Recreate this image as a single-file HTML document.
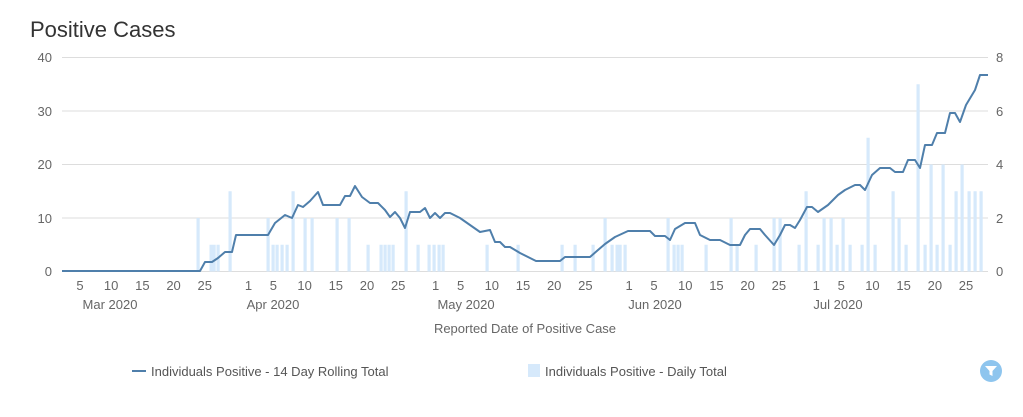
<!DOCTYPE html><html><head><style>body{margin:0;background:#fff;font-family:"Liberation Sans",sans-serif}</style></head><body>
<svg width="1023" height="412" xmlns="http://www.w3.org/2000/svg" font-family="Liberation Sans, sans-serif">
<text x="30" y="37" font-size="22" fill="#333">Positive Cases</text>
<g stroke="#ddd" stroke-width="1">
<line x1="62" x2="988" y1="57.5" y2="57.5"/><line x1="62" x2="988" y1="111" y2="111"/><line x1="62" x2="988" y1="164.5" y2="164.5"/><line x1="62" x2="988" y1="218" y2="218"/><line x1="62" x2="988" y1="271.5" y2="271.5"/></g>
<g font-size="13" fill="#666" text-anchor="end"><text x="52" y="62">40</text><text x="52" y="116">30</text><text x="52" y="169">20</text><text x="52" y="223">10</text><text x="52" y="276">0</text></g>
<g font-size="13" fill="#666"><text x="996" y="62">8</text><text x="996" y="116">6</text><text x="996" y="169">4</text><text x="996" y="223">2</text><text x="996" y="276">0</text></g>
<g fill="#d6e9fb" id="bars"></g>
<polyline fill="none" stroke="#4f7fab" stroke-width="2" stroke-linejoin="round" points="62,271 200,271 205,262 212,262 218,258 225,252 232,252 236,235 268,235 275,223 285,215 292,218 298,205 303,207 310,201 318,192 323,205 340,205 345,196 350,196 355,186 362,197 370,203 378,203 385,210 390,217 395,212 400,218 405,228 410,212 420,212 425,208 430,218 435,213 440,218 445,213 450,213 460,218 470,225 480,232 490,230 495,242 500,242 505,247 510,247 520,253 530,258 536,261 560,261 565,257 590,257 598,250 605,244 615,237 628,231 650,231 655,236 665,236 670,240 675,229 685,223 695,223 700,235 710,240 720,240 730,245 740,245 745,235 750,229 760,229 765,235 774,245 780,235 785,225 790,225 795,228 800,220 807,207 812,207 818,212 828,205 838,195 845,190 855,185 860,185 865,190 872,175 880,168 890,168 895,172 903,172 908,160 915,160 920,168 925,145 932,145 937,133 945,133 950,113 955,113 960,122 966,105 975,90 980,75 988,75"/>
<g font-size="13" fill="#666" text-anchor="middle" id="ticks"></g>
<g font-size="13" fill="#666" text-anchor="middle"><text x="110" y="309">Mar 2020</text><text x="273" y="309">Apr 2020</text><text x="466" y="309">May 2020</text><text x="655" y="309">Jun 2020</text><text x="838" y="309">Jul 2020</text>
<text x="525" y="333">Reported Date of Positive Case</text></g>
<line x1="132" x2="146" y1="371" y2="371" stroke="#4f7fab" stroke-width="2"/>
<text x="151" y="376" font-size="13" fill="#555">Individuals Positive - 14 Day Rolling Total</text>
<rect x="528" y="364" width="12" height="13" fill="#d6e9fb"/>
<text x="545" y="376" font-size="13" fill="#555">Individuals Positive - Daily Total</text>
<circle cx="991" cy="371" r="11" fill="#8ec5ee"/>
<path d="M985 366h12l-4.5 5v5l-3-1.5v-3.5z" fill="#fff"/>
</svg>
<script>
var b=[[198,2],[211,1],[214,1],[218,1],[230,3],[268,2],[273,1],[277,1],[282,1],[287,1],[293,3],[305,2],[312,2],[337,2],[349,2],[368,1],[381,1],[385,1],[389,1],[393,1],[406,3],[418,1],[429,1],[434,1],[439,1],[443,1],[487,1],[518,1],[562,1],[575,1],[593,1],[605,2],[612,1],[617,1],[620,1],[625,1],[668,2],[674,1],[678,1],[682,1],[706,1],[731,2],[737,1],[756,1],[774,2],[780,2],[799,1],[806,3],[818,1],[824,2],[831,2],[837,1],[843,2],[850,1],[862,1],[868,5],[875,1],[893,3],[899,2],[906,1],[918,7],[925,1],[931,4],[937,1],[943,4],[950,1],[956,3],[962,4],[969,3],[975,3],[981,3]];
var g=document.getElementById('bars'),s='';
b.forEach(function(v){var h=v[1]*26.75;s+='<rect x="'+(v[0]-1.5)+'" y="'+(271.5-h)+'" width="3.2" height="'+h+'"/>';});
g.innerHTML=s;
var t=[[4,5],[9,10],[14,15],[19,20],[24,25],[31,1],[35,5],[40,10],[45,15],[50,20],[55,25],[61,1],[65,5],[70,10],[75,15],[80,20],[85,25],[92,1],[96,5],[101,10],[106,15],[111,20],[116,25],[122,1],[126,5],[131,10],[136,15],[141,20],[146,25]];
var s2='';t.forEach(function(v){var x=55+v[0]*6.24;s2+='<text x="'+x+'" y="290">'+v[1]+'</text>';});
document.getElementById('ticks').innerHTML=s2;
</script>
</body></html>
